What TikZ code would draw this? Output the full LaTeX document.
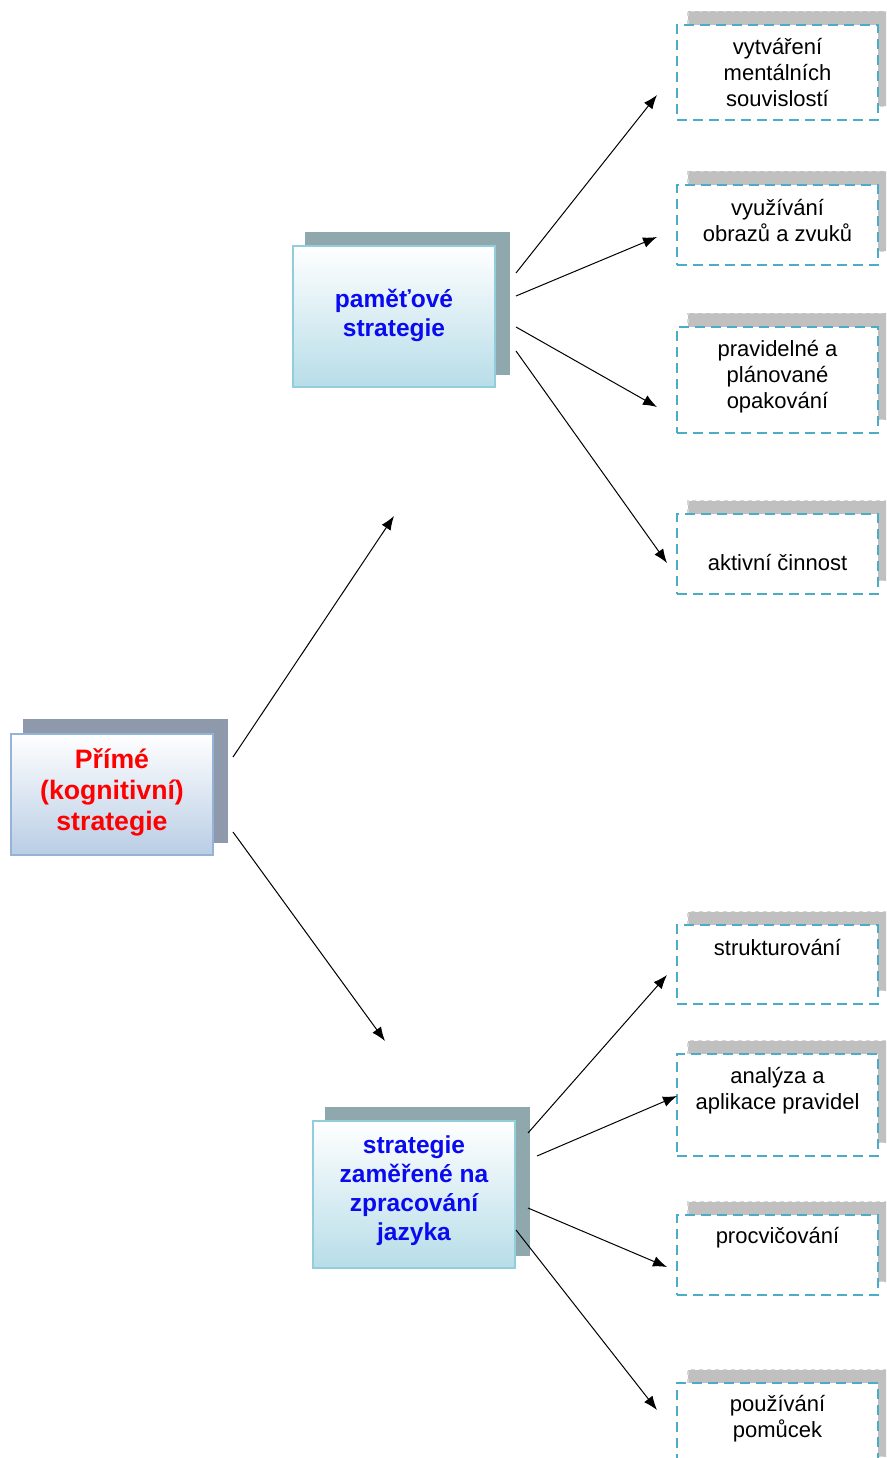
\documentclass[tikz,border=0pt]{standalone}
\usepackage{fontspec}
\setmainfont{Liberation Sans}
\usetikzlibrary{arrows.meta}
\definecolor{mainshadow}{HTML}{8E9AAB}
\definecolor{mainborder}{HTML}{95B3D7}
\definecolor{mainbottom}{HTML}{B9CDE5}
\definecolor{subshadow}{HTML}{8FA8AD}
\definecolor{subborder}{HTML}{92CDDC}
\definecolor{subbottom}{HTML}{B7DDE8}
\definecolor{leafshadow}{HTML}{C0C0C0}
\definecolor{leafshadowedge}{HTML}{D6D6D6}
\definecolor{leafborder}{HTML}{4BACC6}
\definecolor{bluetext}{HTML}{0A0AF0}
\tikzset{
  mainshad/.style={fill=mainshadow, draw=none, inner sep=0pt, minimum width=153.75pt, minimum height=93pt},
  mainbox/.style={draw=mainborder, line width=1.5pt, top color=white, bottom color=mainbottom, inner sep=0pt, minimum width=151.5pt, minimum height=90.75pt},
  maintext/.style={text=red, font=\bfseries\fontsize{20}{23.25}\selectfont, align=center},
  subshad/.style={fill=subshadow, draw=none, inner sep=0pt, minimum width=153.75pt},
  subbox/.style={draw=subborder, line width=1.5pt, top color=white, bottom color=subbottom, inner sep=0pt, minimum width=151.5pt},
  subtext/.style={text=bluetext, font=\bfseries\fontsize{18.4}{21.75}\selectfont, align=center},
  leafshad/.style={fill=leafshadow, draw=leafshadowedge, dashed, line width=0.8pt, inner sep=0pt, minimum width=150pt},
  leafbox/.style={fill=white, draw=leafborder, line width=1.5pt, dash pattern=on 7.5pt off 4.5pt, inner sep=0pt, minimum width=150.75pt},
  leaftext/.style={text=black, font=\fontsize{16.5}{19.5}\selectfont, align=center, inner sep=0pt},
  arr/.style={-{Latex[length=10.5pt,width=8pt]}, line width=0.75pt, black},
}
\begin{document}
\begin{tikzpicture}[x=0.75pt,y=-0.75pt]
\useasboundingbox (0,0) rectangle (886,1458);
\fill[white] (0,0) rectangle (886,1458);
\begin{scope}
\clip (0,0) rectangle (886,1458);
% main box
\node[mainshad] (mains) at (125.5,781) {};
\node[mainbox] (main) at (112,794.5) {};
\node[maintext] (maint) at (112,792) {Přímé\\(kognitivní)\\strategie};
% memory strategies
\node[subshad, minimum height=107.25pt] (mems) at (407.5,303.5) {};
\node[subbox, minimum height=105.75pt] (mem) at (394,316.5) {};
\node[subtext] (memt) at (394,315) {paměťové\\strategie};
% language strategies
\node[subshad, minimum height=111.75pt] (lans) at (427.5,1181.5) {};
\node[subbox, minimum height=110.25pt] (lan) at (414,1194.5) {};
\node[subtext] (lant) at (414,1190.5) {strategie\\zaměřené na\\zpracování\\jazyka};
% leaf boxes
\node[leafshad, minimum height=71.25pt] (r1s) at (788,59) {};
\node[leafbox, minimum height=71.25pt] (r1) at (777.5,72.5) {};
\node[leaftext] (r1t) at (777.5,73) {vytváření\\mentálních\\souvislostí};
\node[leafshad, minimum height=60pt] (r2s) at (788,211.5) {};
\node[leafbox, minimum height=60pt] (r2) at (777.5,225) {};
\node[leaftext] (r2t) at (777.5,221) {využívání\\obrazů a zvuků};
\node[leafshad, minimum height=79.5pt] (r3s) at (788,366.5) {};
\node[leafbox, minimum height=79.5pt] (r3) at (777.5,380) {};
\node[leaftext] (r3t) at (777.5,377) {pravidelné a\\plánované\\opakování};
\node[leafshad, minimum height=60pt] (r4s) at (788,540.5) {};
\node[leafbox, minimum height=60pt] (r4) at (777.5,554) {};
\node[leaftext] (r4t) at (777.5,563) {aktivní činnost};
\node[leafshad, minimum height=59.25pt] (r5s) at (788,951) {};
\node[leafbox, minimum height=59.25pt] (r5) at (777.5,964.5) {};
\node[leaftext] (r5t) at (777.5,947) {strukturování};
\node[leafshad, minimum height=76.5pt] (r6s) at (788,1091.5) {};
\node[leafbox, minimum height=76.5pt] (r6) at (777.5,1105) {};
\node[leaftext] (r6t) at (777.5,1090.5) {analýza a\\aplikace pravidel};
\node[leafshad, minimum height=60pt] (r7s) at (788,1241.5) {};
\node[leafbox, minimum height=60pt] (r7) at (777.5,1255) {};
\node[leaftext] (r7t) at (777.5,1238) {procvičování};
\node[leafshad, minimum height=65.25pt] (r8s) at (788,1413) {};
\node[leafbox, minimum height=65.25pt] (r8) at (777.5,1426.5) {};
\node[leaftext] (r8t) at (777.5,1419) {používání\\pomůcek};
\end{scope}
% connector end points
\coordinate (m1) at (233,757);
\coordinate (m1e) at (394,516);
\coordinate (m2) at (233,832);
\coordinate (m2e) at (385,1041);
\coordinate (a1) at (516,273); \coordinate (a1e) at (657,95);
\coordinate (a2) at (516,296); \coordinate (a2e) at (657,237);
\coordinate (a3) at (516,327); \coordinate (a3e) at (657,407);
\coordinate (a4) at (516,351); \coordinate (a4e) at (667,563);
\coordinate (b1) at (528,1133); \coordinate (b1e) at (667,975);
\coordinate (b2) at (537,1156); \coordinate (b2e) at (677,1096);
\coordinate (b3) at (528,1208); \coordinate (b3e) at (667,1267);
\coordinate (b4) at (516,1230); \coordinate (b4e) at (657,1410);
\draw[arr] (m1) -- (m1e);
\draw[arr] (m2) -- (m2e);
\draw[arr] (a1) -- (a1e);
\draw[arr] (a2) -- (a2e);
\draw[arr] (a3) -- (a3e);
\draw[arr] (a4) -- (a4e);
\draw[arr] (b1) -- (b1e);
\draw[arr] (b2) -- (b2e);
\draw[arr] (b3) -- (b3e);
\draw[arr] (b4) -- (b4e);
\end{tikzpicture}
\end{document}
